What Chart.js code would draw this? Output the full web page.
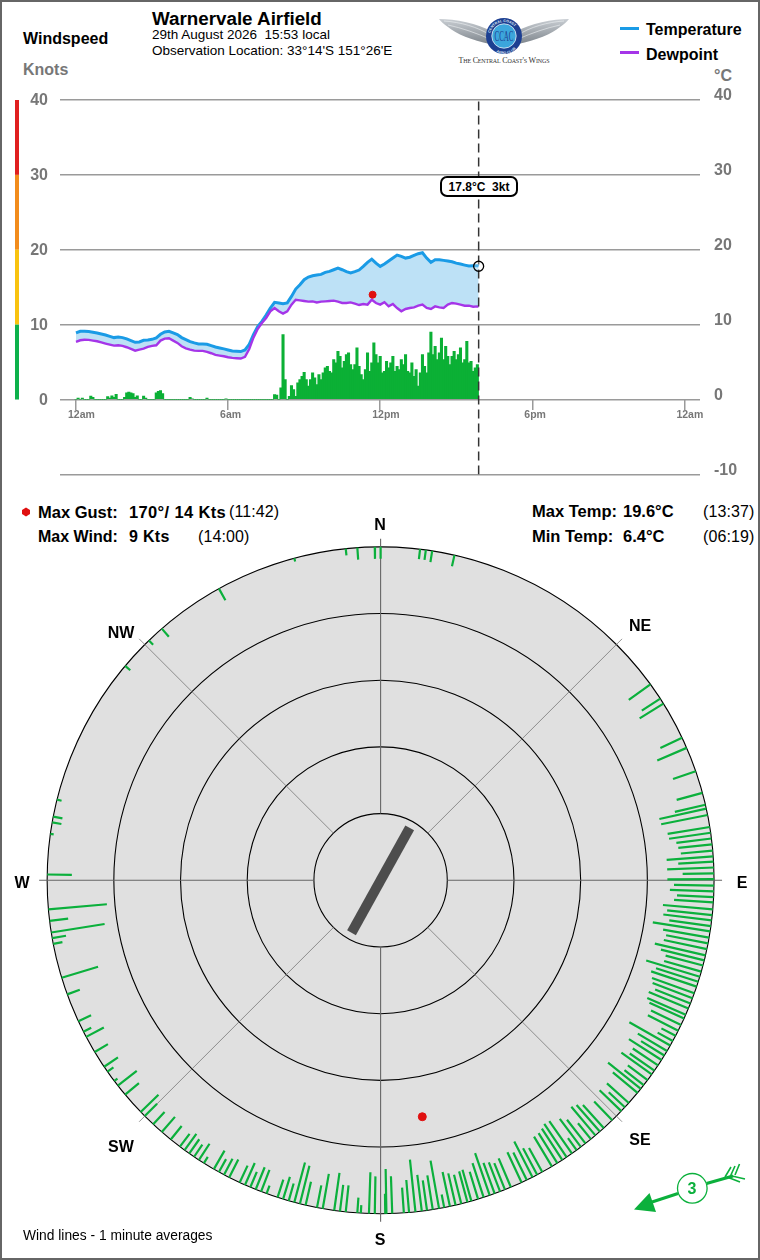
<!DOCTYPE html>
<html><head><meta charset="utf-8">
<script src="https://cdn.jsdelivr.net/npm/chart.js@4/dist/chart.umd.js"></script>
<style>
html,body{margin:0;padding:0;background:#fff}
body{width:760px;height:1260px;position:relative;overflow:hidden;font-family:"Liberation Sans",Arial,sans-serif;color:#000}
#frame{position:absolute;left:0;top:0;width:760px;height:1260px;box-sizing:border-box;border:2px solid #666;pointer-events:none;z-index:9}
canvas{position:absolute;left:0}
.t{position:absolute;white-space:pre;line-height:20px;height:20px}
.b{font-weight:bold}
.g{color:#777}
.c{transform:translateX(-50%)}
.s16{font-size:16px}.s165{font-size:16.5px}
.sw{position:absolute;height:3px;width:19px;left:620px}
#tip{position:absolute;left:440px;top:176px;width:74px;height:17px;border:2px solid #000;border-radius:7px;background:#fff;font:bold 12px/18px "Liberation Sans",Arial,sans-serif;text-align:center;white-space:pre;z-index:3}
</style></head>
<body>
<div id="frame"></div>

<div class="t b s16" style="left:23px;top:29px">Windspeed</div>
<div class="t b s16 g" style="left:23px;top:60px">Knots</div>
<div class="t b s16 g" style="left:714px;top:66px">°C</div>
<div class="t b" style="left:152px;top:9px;font-size:18.8px">Warnervale Airfield</div>
<div class="t" style="left:152px;top:25px;font-size:13.5px">29th August 2026  15:53 local</div>
<div class="t" style="left:152px;top:41px;font-size:13.5px">Observation Location: 33°14'S 151°26'E</div>
<div class="sw" style="top:27px;background:#1a9be6"></div>
<div class="sw" style="top:51px;background:#a535e8"></div>
<div class="t b s16" style="left:646px;top:20px">Temperature</div>
<div class="t b s16" style="left:646px;top:45px">Dewpoint</div>

<svg width="150" height="60" viewBox="0 0 150 60" style="position:absolute;left:430px;top:10px">
<defs><linearGradient id="wg" x1="0" y1="0" x2="0" y2="1"><stop offset="0" stop-color="#c9ced3"/><stop offset="1" stop-color="#7f868d"/></linearGradient>
<path id="ra" d="M60 26 A14 14 0 0 1 88 26"/><path id="rb" d="M58.5 32 A16 16 0 0 0 89.5 32"/></defs>
<path d="M9 9 C25 9 48 13 62 22 L60 34 C42 30 26 24 18 17 C14 14 11 12 9 9Z" fill="url(#wg)"/>
<path d="M139 9 C123 9 100 13 86 22 L88 34 C106 30 122 24 130 17 C134 14 137 12 139 9Z" fill="url(#wg)"/>
<path d="M14 11 C30 12 48 17 60 25 M18 15 C32 18 46 23 60 29 M134 11 C118 12 100 17 88 25 M130 15 C116 18 102 23 88 29" stroke="#eef1f3" stroke-width=".6" fill="none"/>
<circle cx="74" cy="26" r="18" fill="#1d3f91"/>
<circle cx="74" cy="26" r="12.2" fill="#3ca6dc" stroke="#e8eef5" stroke-width=".8"/>
<text x="74" y="31" text-anchor="middle" font-family="Liberation Serif" font-size="14" fill="#1d3f91" textLength="19" lengthAdjust="spacingAndGlyphs">CCAC</text>
<text font-family="Liberation Sans" font-size="3.6" font-weight="bold" fill="#dfe8f5"><textPath href="#ra" startOffset="3">CENTRAL COAST</textPath></text>
<text font-family="Liberation Sans" font-size="3.6" font-weight="bold" fill="#dfe8f5"><textPath href="#rb" startOffset="13">AERO CLUB</textPath></text>
<text x="74" y="52.5" text-anchor="middle" font-family="Liberation Serif" font-size="8" fill="#333" style="font-variant:small-caps" textLength="91">The Central Coast's Wings</text>
</svg>

<canvas id="top" width="760" height="498" style="top:0"></canvas>
<div id="tip">17.8°C  3kt</div>

<svg width="10" height="10" style="position:absolute;left:20.5px;top:507px"><path d="M5 .5 L9 3 L9 7 L5 9.5 L1 7 L1 3Z" fill="#e01010"/></svg>
<div class="t b s165" style="left:38px;top:502px">Max Gust:</div>
<div class="t b s165" style="left:129px;top:502px;letter-spacing:.35px">170°/ 14 Kts</div>
<div class="t s16" style="left:229px;top:502px;letter-spacing:.1px">(11:42)</div>
<div class="t b s16" style="left:38px;top:527px">Max Wind:</div>
<div class="t b s16" style="left:129px;top:527px;letter-spacing:.3px">9 Kts</div>
<div class="t s16" style="left:198px;top:527px;letter-spacing:.1px">(14:00)</div>
<div class="t b s165" style="left:532px;top:501px">Max Temp:</div>
<div class="t b s165" style="left:623px;top:501px">19.6°C</div>
<div class="t s16" style="left:703px;top:502px;letter-spacing:.1px">(13:37)</div>
<div class="t b s165" style="left:532px;top:526px">Min Temp:</div>
<div class="t b s165" style="left:623px;top:526px">6.4°C</div>
<div class="t s16" style="left:703px;top:527px;letter-spacing:.1px">(06:19)</div>

<canvas id="rose" width="760" height="760" style="top:500px"></canvas>

<div class="t b s16 c" style="left:380px;top:515px">N</div>
<div class="t b s16 c" style="left:640px;top:616px">NE</div>
<div class="t b s16 c" style="left:742px;top:873px">E</div>
<div class="t b s16 c" style="left:640px;top:1130px">SE</div>
<div class="t b s16 c" style="left:380px;top:1230px">S</div>
<div class="t b s16 c" style="left:121px;top:1137px">SW</div>
<div class="t b s16 c" style="left:22px;top:873px">W</div>
<div class="t b s16 c" style="left:121px;top:623px">NW</div>
<div class="t" style="left:23px;top:1226px;font-size:13.8px">Wind lines - 1 minute averages</div>

<svg width="130" height="70" viewBox="620 1150 130 70" style="position:absolute;left:620px;top:1150px">
<g stroke="#0bb03c" fill="none" stroke-linecap="butt">
<path d="M652 1202 L678 1193.5" stroke-width="3"/>
<path d="M706.5 1183.5 L733 1176" stroke-width="3"/>
<path d="M725 1177 L731 1167 M730 1177 L735 1166 M735 1175 L739.5 1164 M727 1177 L740 1182 M732 1176 L745 1179" stroke-width="1.6"/>
<circle cx="692.3" cy="1188.3" r="14.8" stroke-width="1.3" fill="#fff"/>
</g>
<path d="M634 1209.5 L649.5 1193 L656 1212Z" fill="#0bb03c"/>
<text x="692" y="1194.3" text-anchor="middle" font-family="Liberation Sans" font-size="16" font-weight="bold" fill="#0bb03c">3</text>
</svg>

<script>
// ---------- Time grid (minutes after midnight) for the two temperature series
const obsMinutes = [0,10,20,30,40,50,60,70,80,90,100,110,120,130,140,150,160,170,180,190,200,210,220,230,240,250,260,270,280,290,300,310,320,330,340,350,360,370,380,390,400,410,420,430,440,450,460,470,480,490,500,510,520,530,540,550,560,570,580,590,600,610,620,630,640,650,660,670,680,690,700,710,720,730,740,750,760,770,780,790,800,810,820,830,840,850,860,870,880,890,900,910,920,930,940,950,953];
const temperature = [8.89,9.11,9.11,9.07,8.98,8.89,8.76,8.62,8.44,8.27,8.36,8.27,8.09,7.87,7.64,7.69,7.91,7.96,8.04,8.22,8.71,9.02,9.11,8.89,8.67,8.27,8,7.73,7.56,7.42,7.42,7.38,7.2,7.02,6.89,6.76,6.62,6.49,6.44,6.4,
6.62,7.37,8.67,9.73,10.44,11.29,12.22,12.98,12.9,12.8,12.9,13.77,14.75,15.33,16,16.35,16.53,16.62,16.71,16.98,17.11,17.33,17.55,17.33,17.07,16.89,17.07,17.29,17.78,18.31,18.75,18.22,17.78,18.09,18.49,18.89,19.29,19.11,18.89,19,19.24,19.47,19.6,18.89,18.31,18.67,18.67,18.58,18.49,18.4,18.22,18.09,17.95,17.82,17.87,17.87,17.8];
const dewpoint = [7.69,7.91,7.98,7.96,7.87,7.78,7.62,7.47,7.33,7.2,7.24,7.16,6.98,6.76,6.53,6.67,6.8,7.02,7.16,7.24,7.87,8.13,8.18,7.87,7.56,7.11,6.84,6.67,6.53,6.49,6.49,6.36,6.18,5.96,5.87,5.78,5.64,5.56,5.51,5.47,
5.69,6.75,8.26,9.42,10.22,10.89,11.78,12.22,11.78,11.47,11.78,12.67,13.33,13.24,13.15,13.07,13.11,12.97,13.07,13.11,13.15,13.2,13.07,12.89,12.89,12.97,12.8,12.62,12.75,12.67,13.33,12.89,12.67,13,12.44,12.75,12.22,11.78,12.09,12.22,12.31,12.53,12.67,12.22,12.09,12.44,12.31,12.22,12.67,12.89,12.8,12.67,12.53,12.53,12.4,12.44,12.4];

// ---------- Wind speed in knots, one value per five minutes from midnight
const windEvery = 5;
const windKnots = [
0,.2,0,.2,0,0,0,.45,.3,0,
0,0,0,0,0,.4,.2,.5,.3,.7,
0,0,0,.3,.9,1,.9,.8,.3,.5,
0,0,.45,.2,0,0,0,0,.9,1.1,
1.2,.8,0,0,0,0,0,0,0,0,
0,0,0,0,.3,.1,0,0,0,0,
0,0,.2,0,0,0,0,0,0,0,
0,.1,0,0,0,0,0,0,0,0,
0,0,0,0,0,0,0,0,0,0,
0,0,0,0,
.67,.58,0,1.55,8.67,2.67,0,.44,1.87,1.33,.44,2.22,2.67,3.11,3.64,2.67,1.78,2.67,3.56,2.89,2,3.33,2.67,3.56,4.22,4.44,3.78,3.56,5.33,4.89,6.44,5.78,4.22,5.11,6,6.22,4.67,4,4.67,6.89,4.44,3.33,2.67,4,6.22,3.78,4.89,7.56,6,4.89,5.78,3.56,3.78,5.11,4.22,4.89,5.78,3.78,4.44,4,5.33,4.67,6,3.78,3.56,4.89,3.11,4,1.78,3.56,6,4.44,3.56,6.22,9,6,7.11,5.33,6.22,8.22,5.33,7.11,5.78,4.67,5.78,6.44,5.33,6,6.89,4.89,5.33,7.78,4.89,5.11,3.78,4.22,4.67];

const axisTicksY = [40,30,20,10,0,-10];
const hourLabels = {0:'12am',360:'6am',720:'12pm',1080:'6pm',1440:'12am'};
const nowMinutes = 953, nowTemp = 17.8;
const gustMinutes = 702, gustKnots = 14, gustDirection = 170;
const bandLimits = [[30,40],[20,30],[10,20],[0,10]];
const bandColours = ['#e02020','#f28c1c','#f9c30f','#0db14b'];

// ---------- Rose: direction (degrees) and 1-minute wind speed (knots)
const roseDirections = [6.8,7.8,8.9,12.8,54,57,58,64.7,66.6,70.9,74.8,76.9,77.6,78.7,80.8,81.8,82.8,83.8,84.9,85.9,86.8,87.8,88.8,89.8,90.9,91.9,92.9,93.8,95,96,96.9,97.9,98.8,99.9,100.9,101.9,103,103.9,104.8,105.9,106.8,107.7,108.6,109.8,110.7,111.7,112.6,113.8,114.5,115.7,116.8,117.8,118.8,119.7,120.8,121.7,122.6,123.7,124.8,125.6,126.8,127.9,128.7,129.6,131.9,132.9,133.8,136,138,138.9,139.9,140.9,142.1,143.1,144,145,146.1,147,148,149.1,151,152,152.9,154,155,157,158.1,159,160,160.9,162,163,164.2,164.9,166,167,168,169,169.9,171,172,172.9,174,175.1,176,178,179,179.2,
181,182,183.4,184,186,187,188,190,191,193,194,195,196,197,198,200,201,202,203,204,205,207,208,209,210,212,213,214,215,216,217,219,221,223,225,226,230,232,233,235,236,239,242,243,245,250,253,259,260,261,263,265,271,278,280,281,284,310,316,319,331,345,354,356,359,0];
const roseSpeeds = [1.5,1.5,1.7,1.7,4,3.3,4.2,3.6,4.8,3.6,4,4.7,7.2,7.1,6.4,6.3,5.3,5.1,4.8,7,5.3,7,4.7,7,6,6.6,5.5,5.9,7.5,6.8,7.3,6.3,8.7,7,6.4,6.6,7.8,6.7,5.8,5.8,8.4,6.65,7.2,6.75,6.4,5.7,6.45,6.3,5.7,5,5.1,2.4,2.6,7.06,5.1,4.1,5.8,4.55,4.5,5.6,3.7,3.66,6.3,4.8,4.4,3.3,4.5,3.9,4.66,5.3,5.6,3.07,4.5,5.25,2.2,5.9,6,5.6,5.3,5.2,4.1,4.5,6,4.6,5,4.7,4.3,4.7,4.9,6.7,5.4,4.3,4.9,4.8,4.5,4.9,5.3,2,7.3,5.2,4.55,5.5,7.9,4.9,3.8,5.6,6.7,3,
5.6,6.2,1.2,2.3,4,4,5.7,5.3,3.4,3.6,5.9,6.2,2.7,3.5,2.8,1.3,3.5,3.6,2.5,3.6,2.8,3,2.7,2.2,3.2,1.1,2.9,2.2,2.6,3,2.4,2.6,3,2.5,2.6,3.7,2.7,3.6,.6,1.1,2.5,2.3,3,1.3,2.1,2,5.7,1.4,2.1,8.1,2.8,8.8,3.7,.5,1.4,1.4,.7,1,.9,1.6,2,.5,1,1.8,1.8,1.8];
const ringKnots = [0,10,20,30,40];
const roseCentreKnots = 50;
const spokesCardinal = [0,90,180,270];
const spokesDiagonal = [45,135,225,315];
const spokeInnerKnots = 40, spokeOuterKnots = -1.2;
const runwayHeadings = [29,209], runwayEndKnots = 41;

// ---------- Top chart
const GRID = '#9a9a9a', LABEL = '#777';
Chart.defaults.font.family = '"Liberation Sans", Arial, sans-serif';
Chart.defaults.devicePixelRatio = 1;

const bandsPlugin = {
  id:'bands',
  beforeDraw(chart){
    const y = chart.scales.y, c = chart.ctx;
    bandLimits.forEach((b,i)=>{
      const a = y.getPixelForValue(b[1]), d = y.getPixelForValue(b[0]);
      c.fillStyle = bandColours[i];
      c.fillRect(15, a, 4, d-a);
    });
  }
};
const xy = (xs,ys)=>xs.map((x,i)=>({x,y:ys[i]}));

new Chart(document.getElementById('top'),{
  data:{datasets:[
    {type:'line',label:'Temperature',data:xy(obsMinutes,temperature),borderColor:'#1a9be6',borderWidth:3,pointRadius:0,tension:0,fill:{target:1},backgroundColor:'#bde1f6',order:4},
    {type:'line',label:'Dewpoint',data:xy(obsMinutes,dewpoint),borderColor:'#a535e8',borderWidth:2.4,pointRadius:0,tension:0,fill:false,order:3},
    {type:'bar',label:'Wind',data:windKnots.map((v,i)=>({x:i*windEvery,y:v})),backgroundColor:'#0bb035',barThickness:2.4,order:5},
    {type:'line',label:'Now',data:[{x:nowMinutes,y:-10},{x:nowMinutes,y:40}],borderColor:'#333',borderWidth:1.5,borderDash:[9,5],pointRadius:0,fill:false,order:2},
    {type:'scatter',label:'Current',data:[{x:nowMinutes,y:nowTemp}],pointRadius:5,pointBorderColor:'#000',pointBorderWidth:1.3,pointBackgroundColor:'rgba(255,255,255,0.25)',order:1},
    {type:'scatter',label:'Gust',data:[{x:gustMinutes,y:gustKnots}],pointRadius:3.5,pointBackgroundColor:'#e01010',pointBorderColor:'#e01010',order:0}
  ]},
  options:{
    responsive:false,animation:false,
    layout:{autoPadding:false,padding:{top:100,bottom:0,left:0,right:0}},
    plugins:{legend:{display:false},tooltip:{enabled:false}},
    scales:{
      x:{type:'linear',axis:'x',offset:false,position:{y:0},min:-37.87,max:1476.9,
        border:{display:false},
        grid:{offset:false,drawOnChartArea:false,drawTicks:true,tickLength:10,color:GRID,lineWidth:1.5},
        afterBuildTicks(s){s.ticks=Object.keys(hourLabels).map(k=>({value:+k}));},
        ticks:{autoSkip:false,maxRotation:0,padding:-1,align:'start',labelOffset:-8,color:LABEL,font:{size:10.5,weight:'bold'},callback:v=>hourLabels[v]||''}},
      y:{position:'left',min:-10,max:40,
        afterFit(s){s.width=60;},
        afterBuildTicks(s){s.ticks=axisTicksY.map(v=>({value:v}));},
        border:{display:false},
        grid:{color:GRID,lineWidth:1.5,drawTicks:false},
        ticks:{padding:12,labelOffset:1,color:LABEL,font:{size:16,weight:'bold'},callback:v=>v<0?'':v}},
      y1:{position:'right',min:-10,max:40,
        afterFit(s){s.width=60;},
        afterBuildTicks(s){s.ticks=axisTicksY.map(v=>({value:v}));},
        border:{display:false},
        grid:{drawOnChartArea:false,drawTicks:false},
        ticks:{padding:14,labelOffset:-4,color:LABEL,font:{size:16,weight:'bold'}}}
    }
  },
  plugins:[bandsPlugin]
});

// ---------- Rose chart: linear x/y scales whose centre is 50 kt and outer ring 0 kt
const pol = (dir,kt)=>{
  const r = roseCentreKnots-kt, a = dir*Math.PI/180;
  return {x:r*Math.sin(a),y:r*Math.cos(a)};
};
const gap = {x:NaN,y:NaN};
const spokeData = dirs => dirs.flatMap(d=>[pol(d,spokeInnerKnots),pol(d,spokeOuterKnots),gap]);
const windLines = roseDirections.flatMap((d,i)=>[pol(d,0),pol(d,roseSpeeds[i]),gap]);

new Chart(document.getElementById('rose'),{
  type:'scatter',
  data:{datasets:[
    {label:'Rings',data:ringKnots.map(()=>({x:0,y:0})),order:6,
      pointRadius(ctx){
        const s = ctx.chart.scales.x, k = ringKnots[ctx.dataIndex]||0;
        return s.getPixelForValue(roseCentreKnots-k)-s.getPixelForValue(0);
      },
      pointBackgroundColor(ctx){return ctx.dataIndex===0?'#e0e0e0':'rgba(0,0,0,0)';},
      pointBorderColor:'#000',pointBorderWidth:1.1},
    {label:'Cardinal',data:spokeData(spokesCardinal),showLine:true,pointRadius:0,borderColor:'#666',borderWidth:1.1,order:5},
    {label:'Diagonal',data:spokeData(spokesDiagonal),showLine:true,pointRadius:0,borderColor:'#777',borderWidth:.8,order:5},
    {label:'Wind',data:windLines,showLine:true,pointRadius:0,borderColor:'#0bb03c',borderWidth:2.2,order:3},
    {label:'Runway',data:runwayHeadings.map(d=>pol(d,runwayEndKnots)),showLine:true,pointRadius:0,borderColor:'#4d4d4d',borderWidth:10,order:2},
    {label:'Gust',data:[pol(gustDirection,gustKnots)],pointRadius:4,pointBackgroundColor:'#e01010',pointBorderColor:'#e01010',order:1}
  ]},
  options:{
    responsive:false,animation:false,
    layout:{autoPadding:false,padding:{left:33.8,right:32.6,top:33.5,bottom:32.9}},
    plugins:{legend:{display:false},tooltip:{enabled:false}},
    scales:{
      x:{type:'linear',min:-52,max:52,display:false},
      y:{type:'linear',min:-52,max:52,display:false}
    }
  }
});
</script>
</body></html>
